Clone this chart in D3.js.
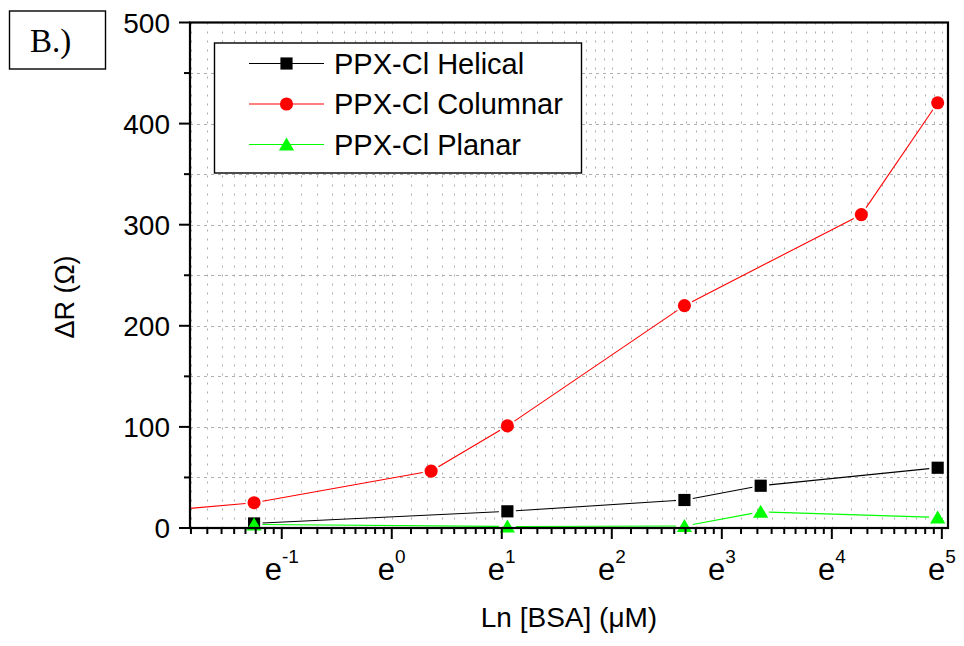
<!DOCTYPE html>
<meta charset="utf-8">
<style>

body {
  margin: 0;
  background: #fff;
}

text {
  font-family: "Liberation Sans", Arial, sans-serif;
  fill: #000;
}

.grid line {
  stroke: #adadad;
  stroke-width: 1;
}

</style>
<body>
<div id="chart"></div>
<script src="https://cdn.jsdelivr.net/npm/d3@7/dist/d3.min.js"></script>
<script>

// concentrations (uM) and resistance change (ohm)
var helicalX = [0.286, 2.86, 14.3, 28.6, 142.9],
    helicalY = [4.5, 16.5, 27.7, 41.8, 59.6];

var columnarX = [0.1, 0.286, 1.43, 2.86, 14.3, 71.4, 142.9],
    columnarY = [15, 25, 56.3, 101, 220, 310, 420.6];

var planarX = [0.286, 2.86, 14.3, 28.6, 142.9],
    planarY = [3.5, 1.5, 2, 16, 10.5];

var seriesNames = ["PPX-Cl Helical", "PPX-Cl Columnar", "PPX-Cl Planar"];
var xTickPowers = [-1, 0, 1, 2, 3, 4, 5];
var yTicks = [0, 100, 200, 300, 400, 500];
var yMinorTicks = [50, 150, 250, 350, 450];

var width = 964,
    height = 646,
    pLeft = 190, pRight = 948, pTop = 22.5, pBottom = 528;

var x = d3.scaleLog().base(Math.E)
    .domain([Math.exp(-1.834), Math.exp(5.056)])
    .range([pLeft, pRight]);

var y = d3.scaleLinear()
    .domain([0, 500])
    .range([pBottom, pTop]);

// minor ticks between e^n and e^(n+1)
var xMinor = [];
d3.range(-2, 5).forEach(function(n) {
  d3.range(1, 9).forEach(function(k) {
    var v = Math.exp(n) * (1 + k * (Math.E - 1) / 9);
    if (v > x.domain()[0] && v < x.domain()[1]) xMinor.push(v);
  });
});
var xMajor = xTickPowers.map(function(p) { return Math.exp(p); });

var svg = d3.select("#chart").append("svg")
    .attr("width", width)
    .attr("height", height);

svg.append("rect").attr("width", width).attr("height", height).attr("fill", "#fff");

svg.append("clipPath").attr("id", "plot")
  .append("rect")
    .attr("x", pLeft).attr("y", pTop)
    .attr("width", pRight - pLeft).attr("height", pBottom - pTop);

// grid
var grid = svg.append("g").attr("class", "grid");

grid.selectAll(".vx")
    .data(xMajor.concat(xMinor))
  .enter().append("line")
    .attr("x1", function(d) { return Math.round(x(d)) + .5; })
    .attr("x2", function(d) { return Math.round(x(d)) + .5; })
    .attr("y1", pTop)
    .attr("y2", pBottom)
    .attr("stroke-dasharray", "2,7");

grid.selectAll(".hy")
    .data(yTicks.slice(1, -1).concat(yMinorTicks))
  .enter().append("line")
    .attr("x1", pLeft)
    .attr("x2", pRight)
    .attr("y1", function(d) { return Math.round(y(d)) + .5; })
    .attr("y2", function(d) { return Math.round(y(d)) + .5; })
    .attr("stroke-dasharray", "3,4");

// legend box (covers grid)
var legend = svg.append("g");
legend.append("rect")
    .attr("x", 214.5).attr("y", 43)
    .attr("width", 367).attr("height", 130)
    .attr("fill", "#fff")
    .attr("stroke", "#000")
    .attr("stroke-width", 1.4);

// markers
var square = d3.symbol().type(d3.symbolSquare).size(148)(),
    circle = d3.symbol().type(d3.symbolCircle).size(135)(),
    triangle = "M0,-7L7.6,6L-7.6,6Z";

var series = [
  {name: seriesNames[0], xs: helicalX, ys: helicalY, color: "#000", shape: square},
  {name: seriesNames[1], xs: columnarX, ys: columnarY, color: "#f00", shape: circle},
  {name: seriesNames[2], xs: planarX, ys: planarY, color: "#0f0", shape: triangle}
];

var gap = 8.5;

series.forEach(function(s) {
  var pts = s.xs.map(function(v, i) { return [x(v), y(s.ys[i])]; });
  var segs = d3.pairs(pts).map(function(p) {
    var dx = p[1][0] - p[0][0], dy = p[1][1] - p[0][1],
        len = Math.sqrt(dx * dx + dy * dy), ux = dx / len, uy = dy / len;
    return [p[0][0] + ux * gap, p[0][1] + uy * gap, p[1][0] - ux * gap, p[1][1] - uy * gap];
  });

  var g = svg.append("g");
  g.append("g").attr("clip-path", "url(#plot)")
    .selectAll("line")
      .data(segs)
    .enter().append("line")
      .attr("x1", function(d) { return d[0]; })
      .attr("y1", function(d) { return d[1]; })
      .attr("x2", function(d) { return d[2]; })
      .attr("y2", function(d) { return d[3]; })
      .attr("stroke", s.color)
      .attr("stroke-width", 1.1);

  g.selectAll("path")
      .data(pts.filter(function(p) { return p[0] >= pLeft; }))
    .enter().append("path")
      .attr("d", s.shape)
      .attr("transform", function(d) { return "translate(" + d[0] + "," + d[1] + ")"; })
      .attr("fill", s.color);
});

// legend rows
legend.selectAll(".row")
    .data(series)
  .enter().append("g")
    .attr("transform", function(d, i) { return "translate(0," + [63.5, 104, 144.5][i] + ")"; })
    .each(function(d) {
      var row = d3.select(this);
      row.append("line")
          .attr("x1", 249).attr("x2", 324)
          .attr("stroke", d.color).attr("stroke-width", 1.1);
      row.append("path")
          .attr("d", d.shape)
          .attr("transform", "translate(286.5,0)")
          .attr("fill", d.color);
      row.append("text")
          .attr("x", 334).attr("y", 10)
          .style("font-size", "29px")
          .text(d.name);
    });

// axes frame
svg.append("rect")
    .attr("x", pLeft).attr("y", pTop)
    .attr("width", pRight - pLeft).attr("height", pBottom - pTop)
    .attr("fill", "none")
    .attr("stroke", "#000")
    .attr("stroke-width", 2.2);

// y ticks
svg.selectAll(".ymaj")
    .data(yTicks)
  .enter().append("line")
    .attr("x1", pLeft - 11).attr("x2", pLeft)
    .attr("y1", function(d) { return y(d); })
    .attr("y2", function(d) { return y(d); })
    .attr("stroke", "#000").attr("stroke-width", 2);

svg.selectAll(".ymin")
    .data(yMinorTicks)
  .enter().append("line")
    .attr("x1", pLeft - 6).attr("x2", pLeft)
    .attr("y1", function(d) { return y(d); })
    .attr("y2", function(d) { return y(d); })
    .attr("stroke", "#000").attr("stroke-width", 2);

svg.selectAll(".ylab")
    .data(yTicks)
  .enter().append("text")
    .attr("x", 170)
    .attr("y", function(d) { return y(d) + 10; })
    .attr("text-anchor", "end")
    .style("font-size", "28px")
    .text(function(d) { return d; });

// x ticks
svg.selectAll(".xmaj")
    .data(xMajor)
  .enter().append("line")
    .attr("x1", function(d) { return x(d); })
    .attr("x2", function(d) { return x(d); })
    .attr("y1", pBottom).attr("y2", pBottom + 11)
    .attr("stroke", "#000").attr("stroke-width", 2);

svg.selectAll(".xmin")
    .data(xMinor)
  .enter().append("line")
    .attr("x1", function(d) { return x(d); })
    .attr("x2", function(d) { return x(d); })
    .attr("y1", pBottom).attr("y2", pBottom + 6)
    .attr("stroke", "#000").attr("stroke-width", 2);

var xlab = svg.selectAll(".xlab")
    .data(xTickPowers)
  .enter().append("text")
    .attr("x", function(d) { return x(Math.exp(d)); })
    .attr("y", 580)
    .attr("text-anchor", "middle")
    .style("font-size", "31px");
xlab.append("tspan").text("e");
xlab.append("tspan")
    .attr("dy", -17)
    .style("font-size", "19px")
    .text(function(d) { return d; });

// axis titles
svg.append("text")
    .attr("x", 569).attr("y", 626.5)
    .attr("text-anchor", "middle")
    .style("font-size", "28px")
    .text("Ln [BSA] (\u03bcM)");

svg.append("text")
    .attr("transform", "translate(74,297) rotate(-90)")
    .attr("text-anchor", "middle")
    .style("font-size", "27px")
    .text("\u0394R (\u03a9)");

// panel tag
svg.append("rect")
    .attr("x", 9.5).attr("y", 11)
    .attr("width", 96).attr("height", 58)
    .attr("fill", "#fff")
    .attr("stroke", "#000")
    .attr("stroke-width", 1.4);

svg.append("text")
    .attr("x", 30).attr("y", 52)
    .style("font-family", "'Liberation Serif', 'Times New Roman', serif")
    .style("font-size", "33px")
    .text("B.)");

</script>
